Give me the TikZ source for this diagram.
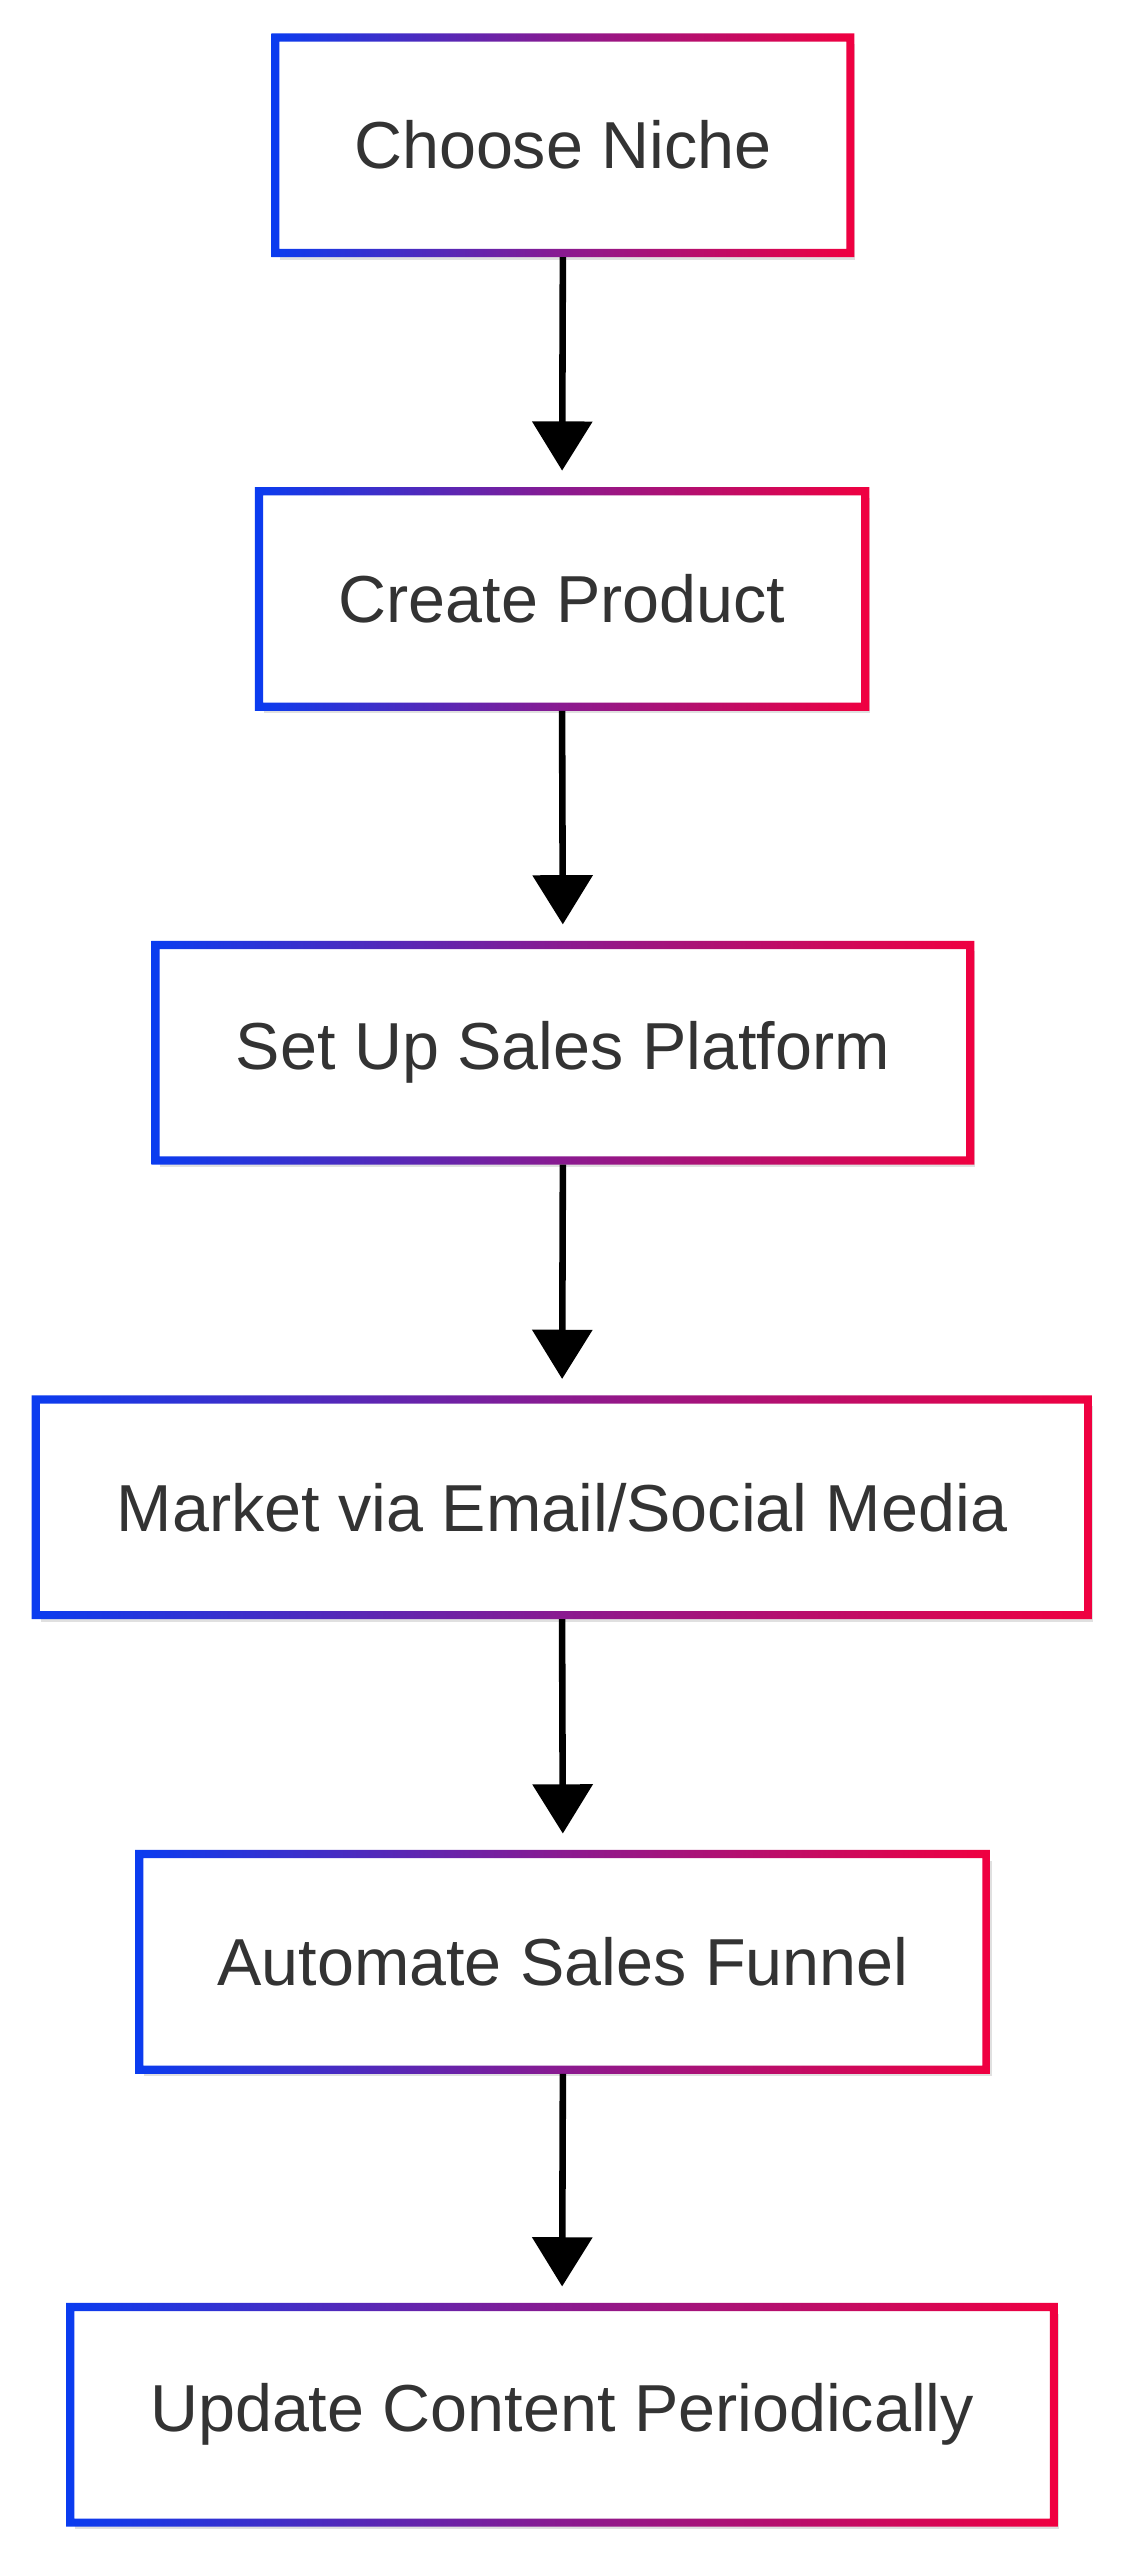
\documentclass[tikz,border=0pt]{standalone}
\usepackage{fontspec}
\setmainfont{Liberation Sans}
\usetikzlibrary{arrows.meta}
\definecolor{cblue}{HTML}{0A3CF0}
\definecolor{cmid}{HTML}{8A1A90}
\definecolor{cred}{HTML}{F00040}
\definecolor{ctext}{HTML}{333333}
\tikzset{
  stepbox/.style={draw=none, minimum height=131pt, inner sep=0pt, font=\fontsize{40.5pt}{46pt}\selectfont, text=ctext},
  flow/.style={line width=4pt, -{Triangle[width=36pt,length=30pt]}, shorten >=10pt}
}
\newcommand{\gframe}[1]{%
  \fill[black!12] ([xshift=3pt,yshift=-4pt]#1.south west) rectangle ([xshift=3pt,yshift=-4pt]#1.north east);
  \fill[white] (#1.south west) rectangle (#1.north east);
  \shade[left color=cblue, right color=cred, middle color=cmid, even odd rule]
    ([xshift=-2.5pt,yshift=-2.5pt]#1.south west) rectangle ([xshift=2.5pt,yshift=2.5pt]#1.north east)
    ([xshift=2.5pt,yshift=2.5pt]#1.south west) rectangle ([xshift=-2.5pt,yshift=-2.5pt]#1.north east);
}
\begin{document}
\begin{tikzpicture}[x=1pt,y=-1pt]
\useasboundingbox (0,0) rectangle (685,1560);
\node[stepbox, minimum width=350pt] (a) at (343,88.5) {};
\node[stepbox, minimum width=369pt] (b) at (342.5,365) {};
\node[stepbox, minimum width=496pt] (c) at (343,641.5) {};
\node[stepbox, minimum width=641pt] (d) at (342.5,918.5) {};
\node[stepbox, minimum width=516pt] (e) at (343,1195.5) {};
\node[stepbox, minimum width=599pt] (f) at (342.5,1471.5) {};
\gframe{a}\gframe{b}\gframe{c}\gframe{d}\gframe{e}\gframe{f}
\node[stepbox] at (a) {Choose Niche};
\node[stepbox] at (b) {Create Product};
\node[stepbox] at (c) {Set Up Sales Platform};
\node[stepbox] at (d) {Market via Email/Social Media};
\node[stepbox] at (e) {Automate Sales Funnel};
\node[stepbox] at (f) {Update Content Periodically};
\draw[flow] ([yshift=-2.5pt]a.south) -- ([yshift=2.5pt]b.north);
\draw[flow] ([yshift=-2.5pt]b.south) -- ([yshift=2.5pt]c.north);
\draw[flow] ([yshift=-2.5pt]c.south) -- ([yshift=2.5pt]d.north);
\draw[flow] ([yshift=-2.5pt]d.south) -- ([yshift=2.5pt]e.north);
\draw[flow] ([yshift=-2.5pt]e.south) -- ([yshift=2.5pt]f.north);
\end{tikzpicture}
\end{document}
